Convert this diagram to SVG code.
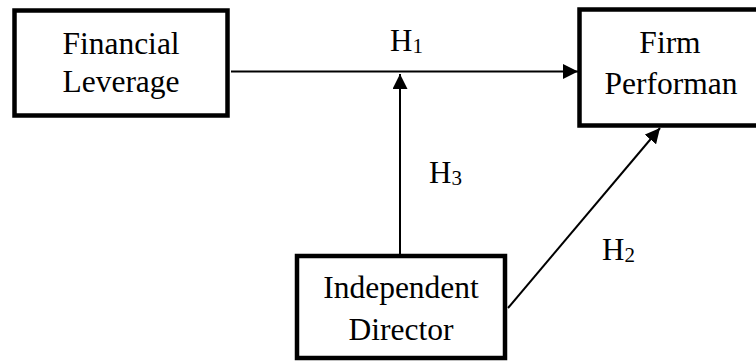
<svg xmlns="http://www.w3.org/2000/svg" width="756" height="361" viewBox="0 0 756 361">
<style>
.box{fill:#fff;stroke:#000;stroke-width:4.5}
.t{font-size:31.5px;fill:#000;text-anchor:middle}
.h{font-size:31px;fill:#000}
.sub{font-size:21px}
.c{stroke:#000;stroke-width:2;fill:none}
</style>
<defs>
<marker id="ah" viewBox="0 0 15 15" refX="15" refY="7.5" markerWidth="15" markerHeight="15" markerUnits="userSpaceOnUse" orient="auto">
<path d="M0,0 L15,7.5 L0,15 Z" fill="#000"/>
</marker>
</defs>
<rect width="756" height="361" fill="#fff"/>
<g id="connectors">
<line class="c" x1="231" y1="71.5" x2="578" y2="71.5" marker-end="url(#ah)"/>
<line class="c" x1="400" y1="256" x2="400" y2="74" marker-end="url(#ah)"/>
<line class="c" x1="508" y1="308" x2="660" y2="128" marker-end="url(#ah)"/>
</g>
<g font-family="Liberation Serif, Times New Roman, serif">
<g id="financial-leverage">
<rect class="box" x="14.5" y="10.5" width="213" height="105"/>
<text class="t" x="121" y="54">Financial</text>
<text class="t" x="121" y="92">Leverage</text>
</g>
<g id="firm-performance">
<rect class="box" x="579.5" y="9.5" width="185" height="116"/>
<text class="t" x="670" y="53">Firm</text>
<text class="t" x="671" y="94">Performan</text>
</g>
<g id="independent-director">
<rect class="box" x="297" y="256" width="208" height="102"/>
<text class="t" x="401" y="298">Independent</text>
<text class="t" x="401" y="340">Director</text>
</g>
<g id="labels">
<text class="h" x="390" y="51">H<tspan class="sub" dy="2">1</tspan></text>
<text class="h" x="429" y="183">H<tspan class="sub" dy="2">3</tspan></text>
<text class="h" x="602" y="260">H<tspan class="sub" dy="2">2</tspan></text>
</g>
</g>
</svg>
